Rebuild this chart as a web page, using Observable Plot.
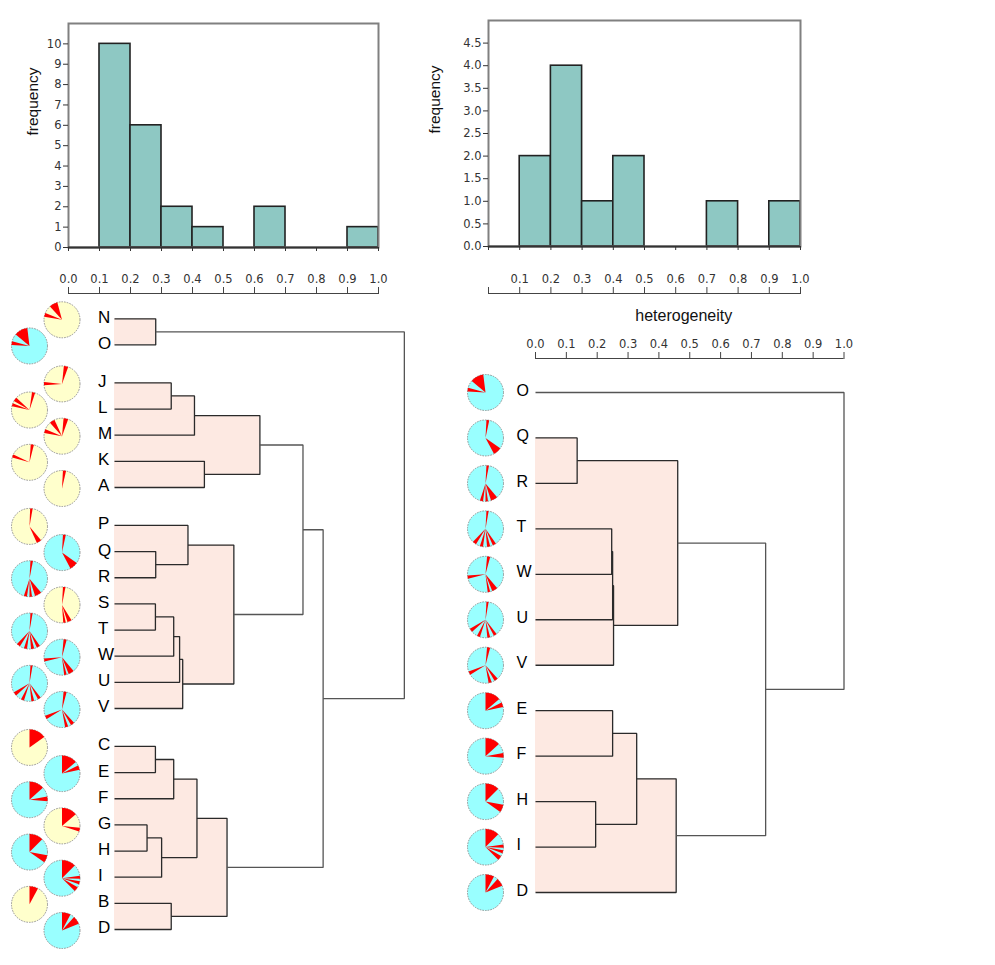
<!DOCTYPE html>
<html>
<head>
<meta charset="utf-8">
<script src="https://cdn.jsdelivr.net/npm/d3@7"></script>
<script src="https://cdn.jsdelivr.net/npm/@observablehq/plot@0.6"></script>
<style>
  body { margin: 0; background: #fff; }
  #chart { position: relative; width: 995px; height: 965px; background: #fff; overflow: hidden; }
  #chart svg { position: absolute; left: 0; top: 0; }
</style>
</head>
<body>
<div id="chart"></div>
<script>
// ---------------- data ----------------
const xTicks = [0, 0.1, 0.2, 0.3, 0.4, 0.5, 0.6, 0.7, 0.8, 0.9, 1.0];
const leftFreqTicks = [0, 1, 2, 3, 4, 5, 6, 7, 8, 9, 10];
const rightFreqTicks = [0, 0.5, 1, 1.5, 2, 2.5, 3, 3.5, 4, 4.5];

// histogram bins (start of each 0.1-wide bin) and counts
const leftHistStart = [0.1, 0.2, 0.3, 0.4, 0.6, 0.9];
const leftHistCount = [10, 6, 2, 1, 2, 1];
const rightHistStart = [0.1, 0.2, 0.3, 0.4, 0.7, 0.9];
const rightHistCount = [2, 4, 1, 2, 1, 1];
const binWidth = 0.1;

// left dendrogram: leaves (top to bottom), visual block of each leaf, pie background
const leftLeaves = ["N","O","J","L","M","K","A","P","Q","R","S","T","W","U","V","C","E","F","G","H","I","B","D"];
const leftBlocks = [0,0,1,1,1,1,1,2,2,2,2,2,2,2,2,3,3,3,3,3,3,3,3];
const leftPieFill = ["cream","cyan","cream","cream","cream","cream","cream","cream","cyan","cyan","cream","cyan","cyan","cyan","cyan","cream","cyan","cyan","cream","cyan","cyan","cream","cyan"];
// merges: [clusterA, clusterB, heterogeneity]
const leftMerges = [
  ["N","O",0.133],
  ["J","L",0.183],
  ["JL","M",0.258],
  ["K","A",0.290],
  ["JLM","KA",0.469],
  ["Q","R",0.133],
  ["P","QR",0.237],
  ["S","T",0.132],
  ["ST","W",0.191],
  ["STW","U",0.210],
  ["STWU","V",0.220],
  ["PQR","STWUV",0.385],
  ["JLMKA","PQRSTWUV",0.608],
  ["C","E",0.132],
  ["CE","F",0.191],
  ["G","H",0.105],
  ["GH","I",0.152],
  ["CEF","GHI",0.266],
  ["B","D",0.183],
  ["CEFGHI","BD",0.363],
  ["JLMKAPQRSTWUV","CEFGHIBD",0.673],
  ["NO","JLMKAPQRSTWUVCEFGHIBD",0.935]
];

// right dendrogram
const rightLeaves = ["O","Q","R","T","W","U","V","E","F","H","I","D"];
const rightBlocks = [0,0,0,0,0,0,0,0,0,0,0,0];
const rightPieFill = ["cyan","cyan","cyan","cyan","cyan","cyan","cyan","cyan","cyan","cyan","cyan","cyan"];
const rightMerges = [
  ["Q","R",0.135],
  ["T","W",0.247],
  ["TW","U",0.250],
  ["TWU","V",0.253],
  ["QR","TWUV",0.461],
  ["E","F",0.250],
  ["H","I",0.195],
  ["EF","HI",0.328],
  ["EFHI","D",0.456],
  ["QRTWUV","EFHID",0.746],
  ["O","QRTWUVEFHID",1.0]
];

// red pie slices per leaf: [startDeg, endDeg], clockwise from 12 o'clock
const redWedges = {
  N: [[280,292],[318,345]],
  O: [[273,285],[310,353]],
  J: [[6,20],[266,276]],
  L: [[8,18],[282,292],[300,313]],
  M: [[5,20],[280,293],[318,335]],
  K: [[4,14],[286,296]],
  A: [[3,13]],
  P: [[2,10],[140,156]],
  Q: [[3,12],[125,152]],
  R: [[3,11],[140,162],[172,180],[188,198]],
  S: [[3,11],[148,162],[168,176]],
  T: [[3,10],[145,156],[165,175],[188,198],[212,224]],
  W: [[5,15],[256,266],[140,158],[165,173]],
  U: [[3,10],[142,152],[165,174],[198,208],[228,240]],
  V: [[5,15],[238,250],[138,150],[160,170]],
  C: [[0,55]],
  E: [[0,50],[63,78]],
  F: [[0,48],[80,95]],
  G: [[0,50],[96,108]],
  H: [[0,45],[100,125]],
  I: [[0,45],[82,92],[100,110],[120,135]],
  B: [[0,28]],
  D: [[0,28],[42,68]]
};

// ---------------- styling / layout ----------------
const W = 995, H = 965;
const PIE_COLORS = {cyan: "#99ffff", cream: "#ffffcc"};
const BAR_FILL = "#8ec8c3";
const SHADE = "#fde9e2";
const SHADE_CUT = 0.5;
const TICK_FONT = "'DejaVu Sans', Verdana, sans-serif";
const LABEL_FONT = "'Liberation Sans', Arial, sans-serif";
const baseStyle = {background: "transparent", overflow: "visible", fontFamily: TICK_FONT, fontSize: "11.5px", color: "#333"};

const chart = document.getElementById("chart");

// ---------------- histograms ----------------
function histogram({start, count, x0, x1, top, bottom, yMax, yTicks, yFormat, labelDx}) {
  const bins = start.map((s, i) => ({x1: s, x2: s + binWidth, count: count[i]}));
  return Plot.plot({
    width: W, height: H,
    marginLeft: x0, marginRight: W - x1, marginTop: top, marginBottom: H - bottom,
    style: baseStyle,
    x: {domain: [0, 1], axis: null},
    y: {domain: [0, yMax], axis: null},
    marks: [
      Plot.rectY(bins, {x1: "x1", x2: "x2", y: "count", fill: BAR_FILL, stroke: "#222", strokeWidth: 1.6}),
      Plot.frame({stroke: "#808080", strokeWidth: 2}),
      Plot.ruleY([0], {stroke: "#333", strokeWidth: 2}),
      Plot.axisY({ticks: yTicks, tickSize: 5, tickPadding: 2, tickFormat: yFormat, label: null, stroke: "#333"}),
      Plot.axisX({ticks: xTicks, tickSize: 4, tickFormat: () => "", label: null, stroke: "#333"}),
      Plot.text(["frequency"], {frameAnchor: "left", rotate: -90, dx: labelDx, fontFamily: LABEL_FONT, fontSize: 15.5, fill: "#111"})
    ]
  });
}

// secondary axis strip: baseline with upward ticks, labels above
function axisStrip({baseline, x0, x1, format}) {
  return Plot.plot({
    width: W, height: H,
    marginLeft: x0, marginRight: W - x1, marginTop: baseline, marginBottom: 0,
    style: baseStyle,
    x: {domain: [0, 1], range: [x0, x1], axis: null},
    y: {domain: [0, 1], range: [baseline, baseline + 1], axis: null},
    marks: [
      Plot.ruleY([0], {x1: 0, x2: 1, stroke: "#444", strokeWidth: 1}),
      Plot.axisX({anchor: "top", ticks: xTicks, tickSize: 7, tickPadding: 4, tickFormat: format, label: null, stroke: "#444"})
    ]
  });
}

chart.append(histogram({start: leftHistStart, count: leftHistCount, x0: 68, x1: 378, top: 23, bottom: 247,
  yMax: 11, yTicks: leftFreqTicks, yFormat: "d", labelDx: -35}));
chart.append(histogram({start: rightHistStart, count: rightHistCount, x0: 488, x1: 800, top: 20, bottom: 246,
  yMax: 5, yTicks: rightFreqTicks, yFormat: ".1f", labelDx: -53}));
chart.append(axisStrip({baseline: 293, x0: 68, x1: 378, format: ".1f"}));
chart.append(axisStrip({baseline: 293, x0: 488, x1: 800, format: d => d === 0 ? "" : d3.format(".1f")(d)}));

// ---------------- dendrograms ----------------
function dendrogram(cfg, leaves, blocks, merges, pieFill) {
  const pos = leaves.map((d, i) => i + blocks[i] * cfg.blockGap);
  const yMax = pos[pos.length - 1];
  const kx = cfg.x1 - cfg.x0;            // px per heterogeneity unit
  const ky = (cfg.y1 - cfg.y0) / yMax;   // px per leaf step
  const nodes = new Map(leaves.map((n, i) => [n, {h: 0, y: pos[i]}]));
  const links = [], shades = [];
  merges.forEach(([a, b, h], k) => {
    const A = nodes.get(a), B = nodes.get(b);
    nodes.set(a + b, {h, y: (A.y + B.y) / 2});
    const topLevel = h >= SHADE_CUT;
    for (const [x, y] of [[A.h, A.y], [h, A.y], [h, B.y], [B.h, B.y]]) {
      links.push({id: k, x, y, stroke: topLevel ? "#555" : "#2a2a2a"});
    }
    if (!topLevel) shades.push({x1: 0, x2: h, y1: A.y, y2: B.y});
  });
  const rows = leaves.map((name, i) => ({
    name, y: pos[i],
    fill: PIE_COLORS[pieFill[i]],
    px: (cfg.pieCols[i % 2] - cfg.x0) / kx,
    py: pos[i] + cfg.pieDy / ky
  }));
  const wedgePts = [];
  rows.forEach(p => (redWedges[p.name] || []).forEach(([a0, a1], j) => {
    const id = p.name + "-" + j;
    wedgePts.push({id, x: p.px, y: p.py});
    const n = Math.max(2, Math.ceil((a1 - a0) / 2));
    for (let s = 0; s <= n; s++) {
      const t = (a0 + (a1 - a0) * s / n) * Math.PI / 180;
      wedgePts.push({id, x: p.px + cfg.pieR * Math.sin(t) / kx, y: p.py - cfg.pieR * Math.cos(t) / ky});
    }
    wedgePts.push({id, x: p.px, y: p.py});
  }));

  const marks = [
    Plot.dot(rows, {x: "px", y: "py", r: cfg.pieR, fill: "fill", stroke: "#8a8a8a", strokeWidth: 0.9, strokeDasharray: "1.6,1.1"}),
    Plot.line(wedgePts, {x: "x", y: "y", z: "id", fill: "#ff0000", stroke: "none", curve: "linear"}),
    Plot.rect(shades, {x1: "x1", x2: "x2", y1: "y1", y2: "y2", fill: SHADE}),
    Plot.line(links, {x: "x", y: "y", z: "id", stroke: "stroke", strokeWidth: 1.3, strokeLinecap: "butt", strokeLinejoin: "miter", curve: "linear"}),
    Plot.text(rows, {x: 0, y: "y", text: "name", textAnchor: "start", dx: cfg.labelDx, dy: cfg.labelDy,
      fontFamily: LABEL_FONT, fontSize: cfg.fontSize, fill: "#000"})
  ];
  if (cfg.axisBaseline != null) {
    marks.push(
      Plot.ruleY([(cfg.axisBaseline - cfg.y0) / ky], {x1: 0, x2: 1, stroke: "#444", strokeWidth: 1}),
      Plot.axisX({anchor: "top", ticks: xTicks, tickSize: 7, tickPadding: 4, tickFormat: ".1f", label: null, stroke: "#444"}),
      Plot.text([cfg.title], {x: 0.5, frameAnchor: "top", dx: -6, dy: cfg.titleDy, fontFamily: LABEL_FONT, fontSize: 16, fill: "#111"})
    );
  }
  return Plot.plot({
    width: W, height: H,
    marginLeft: cfg.x0, marginRight: W - cfg.x1,
    marginTop: cfg.axisBaseline != null ? cfg.axisBaseline : 20, marginBottom: 0,
    style: baseStyle,
    x: {domain: [0, 1], range: [cfg.x0, cfg.x1], axis: null},
    y: {domain: [0, yMax], range: [cfg.y0, cfg.y1], axis: null},
    color: {type: "identity"},
    marks
  });
}

chart.append(dendrogram(
  {x0: 114, x1: 424, y0: 318.3, y1: 929, blockGap: 0.45, pieCols: [61.5, 29], pieR: 18, pieDy: 1,
   labelDx: -16.5, labelDy: -1.5, fontSize: 17},
  leftLeaves, leftBlocks, leftMerges, leftPieFill));

chart.append(dendrogram(
  {x0: 535, x1: 843.5, y0: 392, y1: 892, blockGap: 0, pieCols: [485, 485], pieR: 18, pieDy: 0,
   labelDx: -19, labelDy: -2, fontSize: 16, axisBaseline: 358, title: "heterogeneity", titleDy: -49},
  rightLeaves, rightBlocks, rightMerges, rightPieFill));
</script>
</body>
</html>
